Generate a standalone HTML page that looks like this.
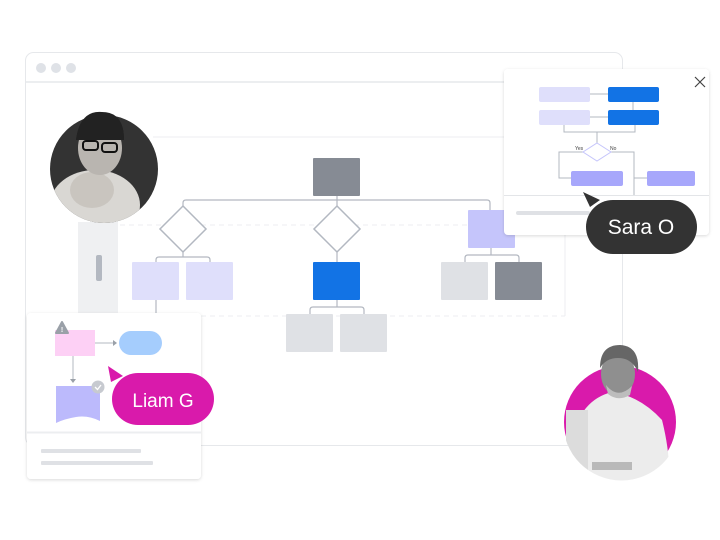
<!DOCTYPE html>
<html><head><meta charset="utf-8"><style>
html,body{margin:0;padding:0;background:#fff;width:720px;height:540px;overflow:hidden}
svg{display:block}
text{font-family:"Liberation Sans",sans-serif}
</style></head><body>
<svg width="720" height="540" viewBox="0 0 720 540" xmlns="http://www.w3.org/2000/svg">
<defs>
<filter id="sh" x="-20%" y="-20%" width="140%" height="140%"><feDropShadow dx="0" dy="1" stdDeviation="1.5" flood-color="#000" flood-opacity="0.15"/></filter>
<clipPath id="c1"><circle cx="104" cy="169" r="54"/></clipPath>
<clipPath id="c2"><path d="M563 300 H680 V422 A57 57 0 0 1 563 422 Z"/></clipPath>
</defs>
<!-- browser window -->
<rect x="25.5" y="52.5" width="597" height="393" rx="8" fill="#fff" stroke="#e6e8eb"/>
<line x1="26" y1="82" x2="622" y2="82" stroke="#eceef0" stroke-width="2"/>
<circle cx="41" cy="68" r="5" fill="#dfe2e7"/><circle cx="56" cy="68" r="5" fill="#dfe2e7"/><circle cx="71" cy="68" r="5" fill="#dfe2e7"/>
<!-- canvas frame -->
<line x1="153" y1="137" x2="565" y2="137" stroke="#eceef0"/>
<line x1="565" y1="137" x2="565" y2="316" stroke="#eceef0"/>
<line x1="120" y1="225" x2="565" y2="225" stroke="#eceef0" stroke-dasharray="5 4"/>
<line x1="120" y1="316" x2="565" y2="316" stroke="#eceef0" stroke-dasharray="5 4"/>
<rect x="78" y="222" width="40" height="94" fill="#eff0f2"/>
<rect x="96" y="255" width="6" height="26" rx="2" fill="#b3b8c1"/>
<!-- connectors -->
<g fill="none" stroke="#b3b8c1" stroke-width="1.2">
<line x1="337" y1="196" x2="337" y2="206"/>
<path d="M183 206 V203 Q183 200 186 200 H487 Q490 200 490 203 V210"/>
<line x1="183" y1="252" x2="183" y2="257"/>
<path d="M156 262 V260 Q156 257 159 257 H207 Q210 257 210 260 V262"/>
<line x1="337" y1="252" x2="337" y2="262"/>
<path d="M310 314 V310 Q310 307 313 307 H361 Q364 307 364 310 V314"/>
<line x1="337" y1="300" x2="337" y2="307"/>
<line x1="491" y1="248" x2="491" y2="255"/>
<path d="M465 262 V258 Q465 255 468 255 H516 Q519 255 519 258 V262"/>
<line x1="156" y1="300" x2="156" y2="313"/>
</g>
<rect x="313" y="158" width="47" height="38" rx="1" fill="#868b94"/>
<polygon points="183,206 206,229 183,252 160,229" fill="#fff" stroke="#b3b8c1" stroke-width="1.5"/>
<polygon points="337,206 360,229 337,252 314,229" fill="#fff" stroke="#b3b8c1" stroke-width="1.5"/>
<rect x="468" y="210" width="47" height="38" rx="1" fill="#c5c5fb"/>
<rect x="132" y="262" width="47" height="38" rx="1" fill="#dfdffb"/>
<rect x="186" y="262" width="47" height="38" rx="1" fill="#dfdffb"/>
<rect x="313" y="262" width="47" height="38" rx="1" fill="#1273e5"/>
<rect x="441" y="262" width="47" height="38" rx="1" fill="#dfe1e5"/>
<rect x="495" y="262" width="47" height="38" rx="1" fill="#868b94"/>
<rect x="286" y="314" width="47" height="38" rx="1" fill="#dfe1e5"/>
<rect x="340" y="314" width="47" height="38" rx="1" fill="#dfe1e5"/>
<!-- woman avatar -->
<g clip-path="url(#c1)">
<rect x="40" y="110" width="130" height="120" fill="#333"/>
<ellipse cx="95" cy="205" rx="45" ry="35" fill="#d9d7d3"/>
<ellipse cx="92" cy="190" rx="22" ry="18" fill="#c9c5bf"/>
<ellipse cx="100" cy="148" rx="22" ry="27" fill="#b9b5b0"/>
<path d="M76 140 Q80 110 102 112 Q124 112 124 140 Q116 128 100 128 Q86 128 76 140Z" fill="#222"/>
<rect x="83" y="141" width="15" height="9" rx="3" fill="none" stroke="#111" stroke-width="2"/>
<rect x="102" y="143" width="15" height="9" rx="3" fill="none" stroke="#111" stroke-width="2"/>
</g>
<path d="M76 140 Q80 110 102 112 Q124 112 124 140" fill="#222"/>
<!-- Sara popup -->
<rect x="504" y="69" width="205" height="166" rx="4" fill="#fff" filter="url(#sh)"/>
<path d="M695 77 L705 87 M705 77 L695 87" stroke="#444" stroke-width="1.2"/>
<g fill="none" stroke="#b3b8c1" stroke-width="1">
<line x1="590" y1="94" x2="608" y2="94"/><line x1="590" y1="117" x2="608" y2="117"/>
<line x1="633" y1="102" x2="633" y2="110"/>
<path d="M564 125 V132 H635 V125"/><line x1="597" y1="132" x2="597" y2="144"/>
<path d="M589 152 H559 V178 H571"/><path d="M605 152 H634 V195"/><line x1="634" y1="178" x2="647" y2="178"/>
</g>
<rect x="539" y="87" width="51" height="15" rx="2" fill="#dfdffb"/>
<rect x="608" y="87" width="51" height="15" rx="2" fill="#1273e5"/>
<rect x="539" y="110" width="51" height="15" rx="2" fill="#dfdffb"/>
<rect x="608" y="110" width="51" height="15" rx="2" fill="#1273e5"/>
<polygon points="597,143 611,152 597,161 583,152" fill="#fff" stroke="#c5c5fb"/>
<text x="575" y="150" font-size="5" fill="#444">Yes</text><text x="610" y="150" font-size="5" fill="#444">No</text>
<rect x="571" y="171" width="52" height="15" rx="2" fill="#a7a7fb"/>
<rect x="647" y="171" width="48" height="15" rx="2" fill="#a7a7fb"/>
<line x1="504" y1="195.5" x2="709" y2="195.5" stroke="#e3e5e8"/>
<rect x="516" y="211" width="74" height="4" rx="2" fill="#dfe1e5"/>
<rect x="586" y="200" width="111" height="54" rx="27" fill="#333"/>
<polygon points="583,192 600,200 590,207" fill="#333"/>
<text x="641" y="234" font-size="21" fill="#fff" text-anchor="middle">Sara O</text>
<!-- Liam card -->
<rect x="27" y="313" width="174" height="166" rx="4" fill="#fff" filter="url(#sh)"/>
<line x1="73" y1="356" x2="73" y2="380" stroke="#b3b8c1"/><polygon points="70,379 76,379 73,383" fill="#9aa0a8"/>
<line x1="95" y1="343" x2="114" y2="343" stroke="#b3b8c1"/><polygon points="113,340 113,346 117,343" fill="#9aa0a8"/>
<rect x="55" y="330" width="40" height="26" fill="#fdd0f5"/>
<rect x="119" y="331" width="43" height="24" rx="12" fill="#a5cdfd"/>
<polygon points="56,333 62,322 68,333" fill="#9aa0a8" stroke="#9aa0a8" stroke-linejoin="round" stroke-width="2"/>
<text x="62" y="332" font-size="7" fill="#fff" text-anchor="middle" font-weight="bold">!</text>
<path d="M56 386 H100 V421 Q88 415 76 417 Q64 419 56 423 Z" fill="#bcbafc"/>
<circle cx="98" cy="387" r="6.5" fill="#c7cad0"/><path d="M95 387 L97.5 389.5 L101 385" stroke="#fff" stroke-width="1.3" fill="none"/>
<line x1="27" y1="432.5" x2="201" y2="432.5" stroke="#eceef0" stroke-width="2"/>
<rect x="41" y="449" width="100" height="4" rx="1" fill="#dfe1e5"/>
<rect x="41" y="461" width="112" height="4" rx="1" fill="#dfe1e5"/>
<rect x="112" y="373" width="102" height="52" rx="26" fill="#d91aab"/>
<polygon points="108,366 123,376 111,382" fill="#d91aab"/>
<text x="163" y="407" font-size="19" fill="#fff" text-anchor="middle">Liam G</text>
<!-- man avatar -->
<circle cx="620" cy="422" r="56" fill="#d91aab"/>
<g clip-path="url(#c2)">
<path d="M572 440 Q580 400 612 392 Q640 396 662 420 Q672 460 668 490 H570 Z" fill="#ececec"/>
<ellipse cx="618" cy="374" rx="17" ry="22" fill="#8f8f8f"/>
<path d="M600 368 Q600 345 620 345 Q640 346 638 372 Q632 358 618 358 Q606 358 600 368Z" fill="#666"/>
<path d="M606 385 Q618 400 632 386 L630 395 Q618 402 608 394Z" fill="#bdbdbd"/>
<rect x="566" y="410" width="22" height="60" fill="#dcdcdc"/>
<rect x="592" y="462" width="40" height="8" fill="#b9b9b9"/>
</g>
</svg>
</body></html>
